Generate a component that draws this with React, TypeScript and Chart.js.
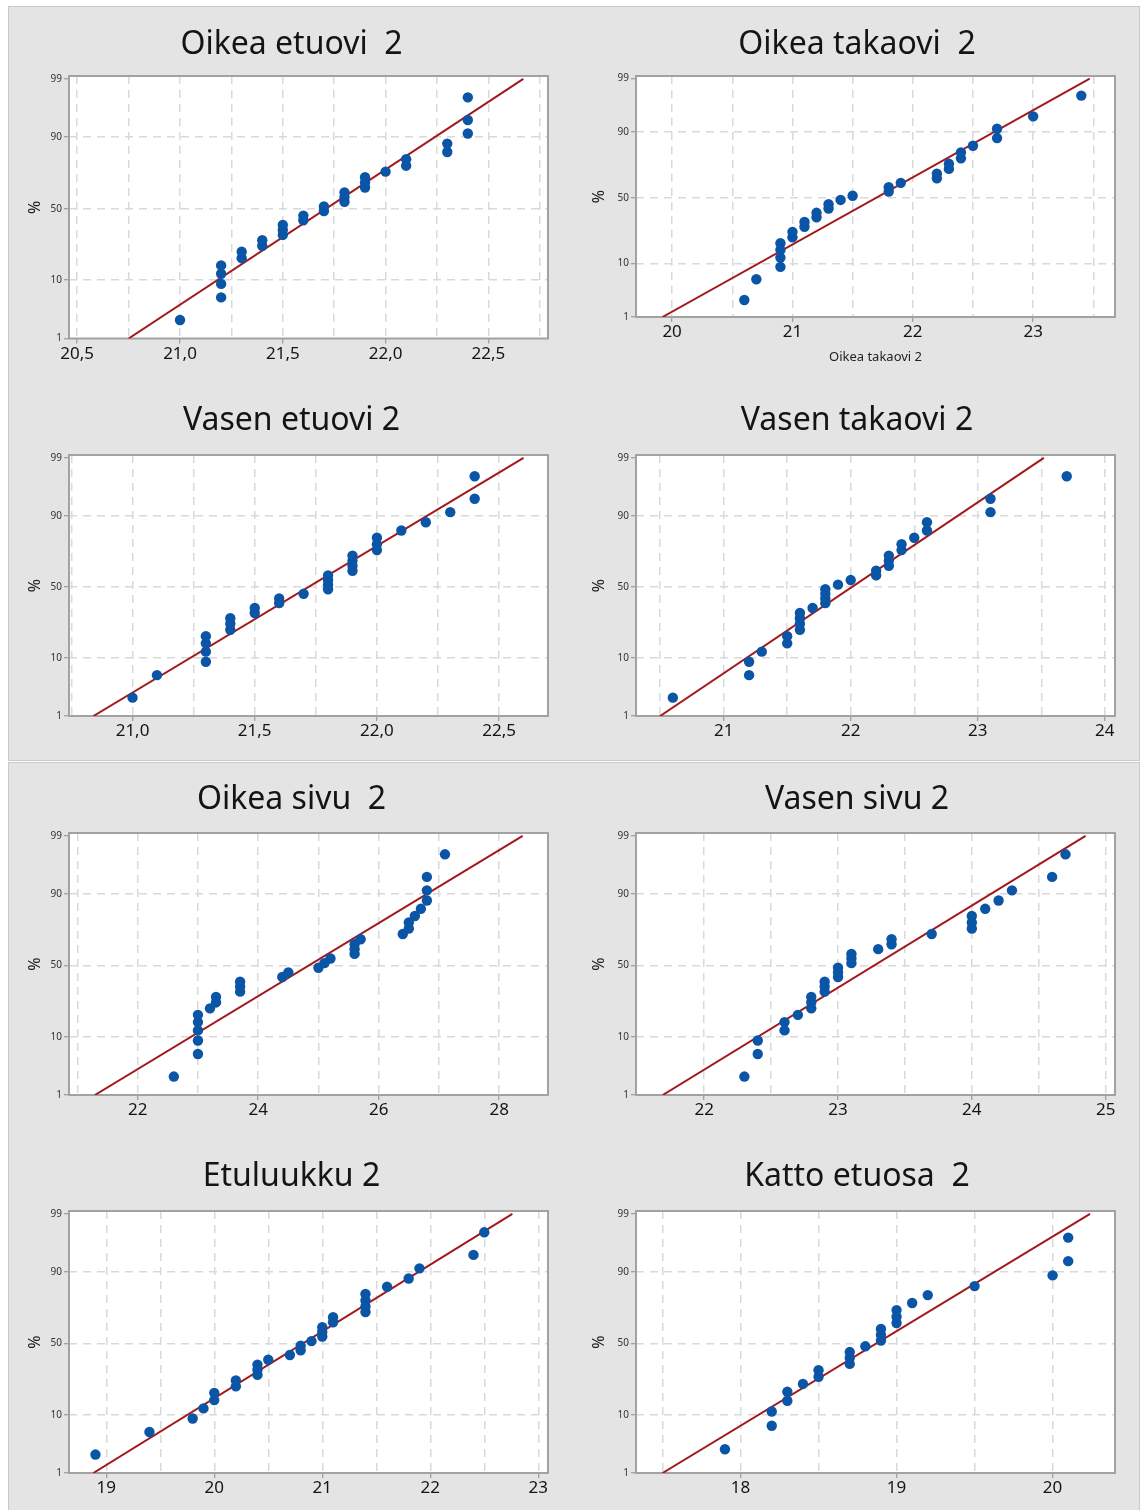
import React, { useEffect, useRef } from 'react';
import { Chart, registerables, Scale } from 'chart.js';

// ---------- data ----------
// Median-rank plotting positions (percent)
const pct30 = [2.3, 5.59, 8.88, 12.17, 15.46, 18.75, 22.04, 25.33, 28.62, 31.91, 35.2, 38.49, 41.78, 45.07, 48.36, 51.64, 54.93, 58.22, 61.51, 64.8, 68.09, 71.38, 74.67, 77.96, 81.25, 84.54, 87.83, 91.12, 94.41, 97.7];
const pct24 = [2.87, 6.97, 11.07, 15.16, 19.26, 23.36, 27.46, 31.56, 35.66, 39.75, 43.85, 47.95, 52.05, 56.15, 60.25, 64.34, 68.44, 72.54, 76.64, 80.74, 84.84, 88.93, 93.03, 97.13];

const oikeaEtuovi = [21.0, 21.2, 21.2, 21.2, 21.2, 21.3, 21.3, 21.4, 21.4, 21.5, 21.5, 21.5, 21.6, 21.6, 21.7, 21.7, 21.8, 21.8, 21.8, 21.9, 21.9, 21.9, 22.0, 22.1, 22.1, 22.3, 22.3, 22.4, 22.4, 22.4];
const oikeaTakaovi = [20.6, 20.7, 20.9, 20.9, 20.9, 20.9, 21.0, 21.0, 21.1, 21.1, 21.2, 21.2, 21.3, 21.3, 21.4, 21.5, 21.8, 21.8, 21.9, 22.2, 22.2, 22.3, 22.3, 22.4, 22.4, 22.5, 22.7, 22.7, 23.0, 23.4];
const vasenEtuovi = [21.0, 21.1, 21.3, 21.3, 21.3, 21.3, 21.4, 21.4, 21.4, 21.5, 21.5, 21.6, 21.6, 21.7, 21.8, 21.8, 21.8, 21.8, 21.9, 21.9, 21.9, 21.9, 22.0, 22.0, 22.0, 22.1, 22.2, 22.3, 22.4, 22.4];
const vasenTakaovi = [20.6, 21.2, 21.2, 21.3, 21.5, 21.5, 21.6, 21.6, 21.6, 21.6, 21.7, 21.8, 21.8, 21.8, 21.8, 21.9, 22.0, 22.2, 22.2, 22.3, 22.3, 22.3, 22.4, 22.4, 22.5, 22.6, 22.6, 23.1, 23.1, 23.7];
const oikeaSivu = [22.6, 23.0, 23.0, 23.0, 23.0, 23.0, 23.2, 23.3, 23.3, 23.7, 23.7, 23.7, 24.4, 24.5, 25.0, 25.1, 25.2, 25.6, 25.6, 25.6, 25.7, 26.4, 26.5, 26.5, 26.6, 26.7, 26.8, 26.8, 26.8, 27.1];
const vasenSivu = [22.3, 22.4, 22.4, 22.6, 22.6, 22.7, 22.8, 22.8, 22.8, 22.9, 22.9, 22.9, 23.0, 23.0, 23.0, 23.1, 23.1, 23.1, 23.3, 23.4, 23.4, 23.7, 24.0, 24.0, 24.0, 24.1, 24.2, 24.3, 24.6, 24.7];
const etuluukku = [18.9, 19.4, 19.8, 19.9, 20.0, 20.0, 20.2, 20.2, 20.4, 20.4, 20.4, 20.5, 20.7, 20.8, 20.8, 20.9, 21.0, 21.0, 21.0, 21.1, 21.1, 21.4, 21.4, 21.4, 21.4, 21.6, 21.8, 21.9, 22.4, 22.5];
const kattoEtuosa = [17.9, 18.2, 18.2, 18.3, 18.3, 18.4, 18.5, 18.5, 18.7, 18.7, 18.7, 18.8, 18.9, 18.9, 18.9, 19.0, 19.0, 19.0, 19.1, 19.2, 19.5, 20.0, 20.1, 20.1];

// fitted line: x at 1 % and at 99 %
const fitPct = [1, 99];
const fitOikeaEtuovi = [20.75, 22.67];
const fitOikeaTakaovi = [19.92, 23.47];
const fitVasenEtuovi = [20.84, 22.6];
const fitVasenTakaovi = [20.5, 23.52];
const fitOikeaSivu = [21.29, 28.39];
const fitVasenSivu = [21.69, 24.85];
const fitEtuluukku = [18.88, 22.76];
const fitKattoEtuosa = [17.5, 20.24];

// axes
const yTickValues = [1, 10, 50, 90, 99];
const yRange = [1, 99.13];

const labelsOikeaEtuovi = [20.5, 21.0, 21.5, 22.0, 22.5];
const gridOikeaEtuovi = [20.5, 20.75, 21.0, 21.25, 21.5, 21.75, 22.0, 22.25, 22.5, 22.75];
const rangeOikeaEtuovi = [20.46, 22.79];

const labelsOikeaTakaovi = [20, 21, 22, 23];
const gridOikeaTakaovi = [20, 20.5, 21, 21.5, 22, 22.5, 23, 23.5];
const rangeOikeaTakaovi = [19.7, 23.68];

const labelsVasenEtuovi = [21.0, 21.5, 22.0, 22.5];
const gridVasenEtuovi = [20.75, 21.0, 21.25, 21.5, 21.75, 22.0, 22.25, 22.5];
const rangeVasenEtuovi = [20.74, 22.7];

const labelsVasenTakaovi = [21, 22, 23, 24];
const gridVasenTakaovi = [20.5, 21, 21.5, 22, 22.5, 23, 23.5, 24];
const rangeVasenTakaovi = [20.31, 24.08];

const labelsOikeaSivu = [22, 24, 26, 28];
const gridOikeaSivu = [21, 22, 23, 24, 25, 26, 27, 28];
const rangeOikeaSivu = [20.86, 28.81];

const labelsVasenSivu = [22, 23, 24, 25];
const gridVasenSivu = [22, 22.5, 23, 23.5, 24, 24.5, 25];
const rangeVasenSivu = [21.49, 25.07];

const labelsEtuluukku = [19, 20, 21, 22, 23];
const gridEtuluukku = [19, 19.5, 20, 20.5, 21, 21.5, 22, 22.5, 23];
const rangeEtuluukku = [18.655, 23.09];

const labelsKattoEtuosa = [18, 19, 20];
const gridKattoEtuosa = [17.5, 18, 18.5, 19, 19.5, 20];
const rangeKattoEtuosa = [17.33, 20.4];

// ---------- probability scale ----------
function probit(p: number): number {
  const a = [-3.969683028665376e1, 2.209460984245205e2, -2.759285104469687e2, 1.38357751867269e2, -3.066479806614716e1, 2.506628277459239];
  const b = [-5.447609879822406e1, 1.615858368580409e2, -1.556989798598866e2, 6.680131188771972e1, -1.328068155288572e1];
  const c = [-7.784894002430293e-3, -3.223964580411365e-1, -2.400758277161838, -2.549732539343734, 4.374664141464968, 2.938163982698783];
  const d = [7.784695709041462e-3, 3.224671290700398e-1, 2.445134137142996, 3.754408661907416];
  const pl = 0.02425;
  if (p < pl) {
    const q = Math.sqrt(-2 * Math.log(p));
    return (((((c[0] * q + c[1]) * q + c[2]) * q + c[3]) * q + c[4]) * q + c[5]) / ((((d[0] * q + d[1]) * q + d[2]) * q + d[3]) * q + 1);
  }
  if (p > 1 - pl) {
    const q = Math.sqrt(-2 * Math.log(1 - p));
    return -(((((c[0] * q + c[1]) * q + c[2]) * q + c[3]) * q + c[4]) * q + c[5]) / ((((d[0] * q + d[1]) * q + d[2]) * q + d[3]) * q + 1);
  }
  const q = p - 0.5;
  const r = q * q;
  return ((((((a[0] * r + a[1]) * r + a[2]) * r + a[3]) * r + a[4]) * r + a[5]) * q) / (((((b[0] * r + b[1]) * r + b[2]) * r + b[3]) * r + b[4]) * r + 1);
}
function normCdf(z: number): number {
  const t = 1 / (1 + 0.3275911 * Math.abs(z) / Math.SQRT2);
  const y = 1 - ((((1.061405429 * t - 1.453152027) * t + 1.421413741) * t - 0.284496736) * t + 0.254829592) * t * Math.exp(-(z * z) / 2);
  return z >= 0 ? (1 + y) / 2 : (1 - y) / 2;
}

class ProbabilityScale extends Scale {
  static id = 'probability';
  static defaults = {};
  _zMin = -2.326;
  _zMax = 2.326;
  determineDataLimits() {
    const o: any = this.options;
    this.min = o.min;
    this.max = o.max;
  }
  buildTicks() {
    const o: any = this.options;
    return (o.tickValues || []).map((v: number) => ({ value: v }));
  }
  getLabelForValue(v: number) {
    return String(v);
  }
  configure() {
    super.configure();
    this._zMin = probit(this.min / 100);
    this._zMax = probit(this.max / 100);
  }
  getPixelForValue(v: number) {
    const z = probit(v / 100);
    return this.getPixelForDecimal((z - this._zMin) / (this._zMax - this._zMin));
  }
  getValueForPixel(px: number) {
    const dd = this.getDecimalForPixel(px);
    return normCdf(this._zMin + dd * (this._zMax - this._zMin)) * 100;
  }
  getPixelForTick(i: number) {
    return this.getPixelForValue(this.ticks[i].value);
  }
  getBasePixel() {
    return this.getPixelForValue(this.min);
  }
}

Chart.register(...registerables, ProbabilityScale as any);

const FONT = "'Noto Sans', 'Open Sans', sans-serif";
const GRID = '#d9d9d9';
const TICKMARK = '#8c8c8c';
const DOT = '#0a55a6';
const LINE = '#a3181a';

const frame = {
  id: 'plotFrame',
  beforeDraw(chart: any) {
    const { ctx, chartArea: a } = chart;
    ctx.save();
    ctx.fillStyle = '#ffffff';
    ctx.fillRect(a.left, a.top, a.right - a.left, a.bottom - a.top);
    ctx.restore();
  },
  beforeDatasetsDraw(chart: any) {
    const { ctx, chartArea: a } = chart;
    ctx.save();
    ctx.strokeStyle = '#a2a2a2';
    ctx.lineWidth = 2;
    ctx.strokeRect(a.left, a.top, a.right - a.left, a.bottom - a.top);
    ctx.restore();
  },
};

type Panel = {
  title: string;
  xs: number[];
  pct: number[];
  fit: number[];
  labels: number[];
  grid: number[];
  range: number[];
  decimals: number;
  col: number;
  row: number;
  xTitle?: string;
};

const panels: Panel[] = [
  { title: 'Oikea etuovi  2', xs: oikeaEtuovi, pct: pct30, fit: fitOikeaEtuovi, labels: labelsOikeaEtuovi, grid: gridOikeaEtuovi, range: rangeOikeaEtuovi, decimals: 1, col: 0, row: 0 },
  { title: 'Oikea takaovi  2', xs: oikeaTakaovi, pct: pct30, fit: fitOikeaTakaovi, labels: labelsOikeaTakaovi, grid: gridOikeaTakaovi, range: rangeOikeaTakaovi, decimals: 0, col: 1, row: 0, xTitle: 'Oikea takaovi 2' },
  { title: 'Vasen etuovi 2', xs: vasenEtuovi, pct: pct30, fit: fitVasenEtuovi, labels: labelsVasenEtuovi, grid: gridVasenEtuovi, range: rangeVasenEtuovi, decimals: 1, col: 0, row: 1 },
  { title: 'Vasen takaovi 2', xs: vasenTakaovi, pct: pct30, fit: fitVasenTakaovi, labels: labelsVasenTakaovi, grid: gridVasenTakaovi, range: rangeVasenTakaovi, decimals: 0, col: 1, row: 1 },
  { title: 'Oikea sivu  2', xs: oikeaSivu, pct: pct30, fit: fitOikeaSivu, labels: labelsOikeaSivu, grid: gridOikeaSivu, range: rangeOikeaSivu, decimals: 0, col: 0, row: 2 },
  { title: 'Vasen sivu 2', xs: vasenSivu, pct: pct30, fit: fitVasenSivu, labels: labelsVasenSivu, grid: gridVasenSivu, range: rangeVasenSivu, decimals: 0, col: 1, row: 2 },
  { title: 'Etuluukku 2', xs: etuluukku, pct: pct30, fit: fitEtuluukku, labels: labelsEtuluukku, grid: gridEtuluukku, range: rangeEtuluukku, decimals: 0, col: 0, row: 3 },
  { title: 'Katto etuosa  2', xs: kattoEtuosa, pct: pct24, fit: fitKattoEtuosa, labels: labelsKattoEtuosa, grid: gridKattoEtuosa, range: rangeKattoEtuosa, decimals: 0, col: 1, row: 3 },
];

// layout (page pixels)
const COLS = [
  { left: 8, width: 566, padL: 27, yW: 34, padR: 26 },
  { left: 574, width: 565, padL: 25, yW: 37, padR: 24 },
];
const ROWS = [
  { top: 6, height: 379, plotTop: 76, plotBottom: 338.5, titleShift: 3.5 },
  { top: 385, height: 375, plotTop: 455, plotBottom: 716, titleShift: 1 },
  { top: 762, height: 374, plotTop: 833, plotBottom: 1095, titleShift: 2 },
  { top: 1136, height: 374, plotTop: 1211, plotBottom: 1473, titleShift: 1 },
];

const TITLE_SIZE = 32;
const TITLE_LH = TITLE_SIZE * 1.2;
const TITLE_PAD_BOTTOM = 15.8;

function ProbPlot({ p }: { p: Panel }) {
  const ref = useRef<HTMLCanvasElement>(null);
  const col = COLS[p.col];
  const row = ROWS[p.row];
  const plotBottom = p.xTitle ? 317 : row.plotBottom;
  const xH = p.xTitle ? 48 : 30;

  useEffect(() => {
    if (!ref.current) return;
    const padB = TITLE_PAD_BOTTOM - row.titleShift;
    const titlePadTop = row.plotTop - row.top - TITLE_LH - padB;
    const padBottom = row.top + row.height - plotBottom - xH;
    const isLabel = (v: number) => p.labels.some((l) => Math.abs(l - v) < 1e-6);
    const chart = new Chart(ref.current, {
      type: 'scatter',
      data: {
        datasets: [
          {
            label: 'fit',
            data: p.fit.map((x, i) => ({ x, y: fitPct[i] })),
            showLine: true,
            borderColor: LINE,
            borderWidth: 2,
            pointRadius: 0,
            order: 2,
          } as any,
          {
            label: p.title,
            data: p.xs.map((x, i) => ({ x, y: p.pct[i] })),
            backgroundColor: DOT,
            borderColor: DOT,
            borderWidth: 0,
            pointRadius: 5.2,
            order: 1,
          },
        ],
      },
      options: {
        animation: false,
        responsive: false,
        events: [],
        layout: { padding: { left: col.padL, right: col.padR, top: 0, bottom: padBottom } },
        plugins: {
          legend: { display: false },
          tooltip: { enabled: false },
          title: {
            display: true,
            text: p.title,
            color: '#141414',
            font: { family: FONT, size: TITLE_SIZE, weight: 'normal' },
            padding: { top: titlePadTop, bottom: padB },
          },
        },
        scales: {
          x: {
            type: 'linear',
            min: p.range[0],
            max: p.range[1],
            afterBuildTicks: (s: any) => {
              s.ticks = p.grid.map((v) => ({ value: v }));
            },
            afterFit: (s: any) => {
              s.height = xH;
            },
            grid: {
              color: GRID,
              lineWidth: 1.5,
              tickLength: 5,
              tickWidth: 1,
              tickColor: (ctx: any) => (ctx.tick && isLabel(ctx.tick.value) ? TICKMARK : 'rgba(0,0,0,0)'),
            },
            border: { display: false, dash: [8, 6] },
            ticks: {
              autoSkip: false,
              maxRotation: 0,
              padding: 0,
              color: '#141414',
              font: { family: FONT, size: 17 },
              callback: (v: any) => {
                const n = Number(v);
                if (!isLabel(n)) return '';
                return p.decimals ? n.toFixed(p.decimals).replace('.', ',') : String(Math.round(n));
              },
            },
            title: {
              display: !!p.xTitle,
              text: p.xTitle || '',
              color: '#222',
              font: { family: FONT, size: 13 },
              padding: { top: 0, bottom: 0 },
            },
          },
          y: {
            type: 'probability' as any,
            position: 'left',
            min: yRange[0],
            max: yRange[1],
            tickValues: yTickValues,
            afterFit: (s: any) => {
              s.width = col.yW;
            },
            grid: {
              color: (ctx: any) => (ctx.tick && (ctx.tick.value === 1 || ctx.tick.value === 99) ? 'rgba(0,0,0,0)' : GRID),
              lineWidth: 1.5,
              tickLength: 5,
              tickWidth: 1,
              tickColor: TICKMARK,
            },
            border: { display: false, dash: [8, 6] },
            ticks: {
              padding: 2,
              color: '#333',
              font: { family: FONT, size: 10 },
              callback: (v: any) => String(v),
            },
            title: {
              display: true,
              text: '%',
              color: '#222',
              font: { family: FONT, size: 16 },
              padding: { top: -9.6, bottom: 0 },
            },
          } as any,
        },
      },
      plugins: [frame],
    } as any);
    return () => chart.destroy();
  }, []);

  return (
    <canvas
      ref={ref}
      width={col.width}
      height={row.height}
      style={{ position: 'absolute', left: col.left, top: row.top, width: col.width, height: row.height }}
    />
  );
}

export default function App() {
  return (
    <div style={{ position: 'absolute', left: 0, top: 0, width: 1142, height: 1510, background: '#ffffff', overflow: 'hidden' }}>
      <div style={{ position: 'absolute', left: 8, top: 6, width: 1132, height: 755, boxSizing: 'border-box', background: '#e4e4e4', border: '1px solid #c9c9c9' }} />
      <div style={{ position: 'absolute', left: 8, top: 762, width: 1132, height: 760, boxSizing: 'border-box', background: '#e4e4e4', border: '1px solid #c9c9c9' }} />
      {panels.map((p) => (
        <ProbPlot key={p.title} p={p} />
      ))}
    </div>
  );
}
